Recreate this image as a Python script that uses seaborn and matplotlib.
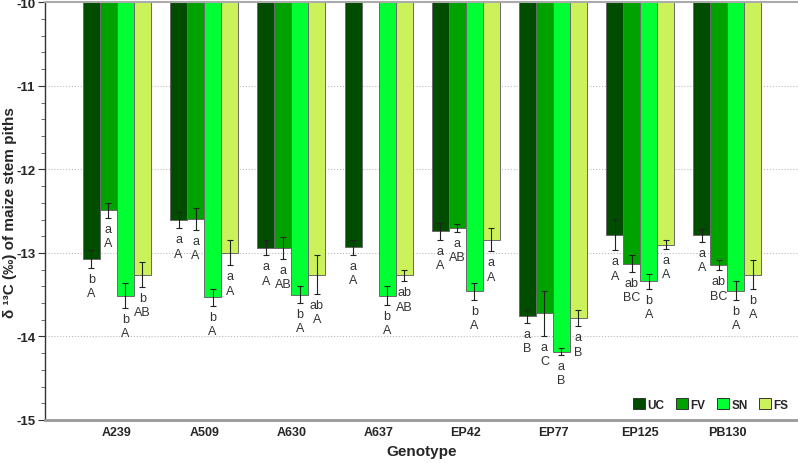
import numpy as np
import pandas as pd
import matplotlib
matplotlib.use("Agg")
import matplotlib.pyplot as plt
from matplotlib.patches import Patch
from matplotlib.ticker import MultipleLocator
import seaborn as sns

genotypes = ["A239", "A509", "A630", "A637", "EP42", "EP77", "EP125", "PB130"]
treatments = ["UC", "FV", "SN", "FS"]
colors = ["#004d00", "#00a200", "#00ff33", "#cbf25b"]

# mean d13C per treatment (one value per genotype)
uc = [-13.07, -12.61, -12.94, -12.93, -12.74, -13.76, -12.78, -12.79]
fv = [-12.49, -12.59, -12.94, np.nan, -12.70, -13.72, -13.13, -13.15]
sn = [-13.51, -13.53, -13.50, -13.51, -13.46, -14.18, -13.34, -13.45]
fs = [-13.26, -13.00, -13.26, -13.27, -12.84, -13.78, -12.90, -13.26]

# standard errors
uc_err = [0.11, 0.095, 0.09, 0.09, 0.10, 0.08, 0.19, 0.08]
fv_err = [0.09, 0.13, 0.13, np.nan, 0.05, 0.27, 0.10, 0.06]
sn_err = [0.15, 0.10, 0.10, 0.11, 0.10, 0.04, 0.09, 0.11]
fs_err = [0.15, 0.15, 0.23, 0.07, 0.14, 0.10, 0.05, 0.17]

# significance letters (lower / upper case)
uc_lbl = ["b\nA", "a\nA", "a\nA", "a\nA", "a\nA", "a\nB", "a\nA", "a\nA"]
fv_lbl = ["a\nA", "a\nA", "a\nAB", "", "a\nAB", "a\nC", "ab\nBC", "ab\nBC"]
sn_lbl = ["b\nA", "b\nA", "b\nA", "b\nA", "b\nA", "a\nB", "b\nA", "b\nA"]
fs_lbl = ["b\nAB", "a\nA", "ab\nA", "ab\nAB", "a\nA", "a\nB", "a\nA", "b\nA"]

values = [uc, fv, sn, fs]
errors = [uc_err, fv_err, sn_err, fs_err]
letters = [uc_lbl, fv_lbl, sn_lbl, fs_lbl]

rows = []
for t, vals in zip(treatments, values):
    for g, v in zip(genotypes, vals):
        rows.append({"genotype": g, "treatment": t, "d13C": v})
df = pd.DataFrame(rows)

sns.set_style("white")
plt.rcParams["font.family"] = ["Liberation Sans", "DejaVu Sans"]
plt.rcParams["axes.unicode_minus"] = False

fig = plt.figure(figsize=(7.98, 4.64), dpi=100)
ax = fig.add_axes([0.0564, 0.0927, 0.9436, 0.9])

width = 0.78
sns.barplot(data=df, x="genotype", y="d13C", hue="treatment", order=genotypes,
            hue_order=treatments, palette=colors, saturation=1, width=width,
            errorbar=None, edgecolor="#6a6a6a", linewidth=0.7, legend=False, ax=ax)

bw = width / len(treatments)
for p in ax.patches:
    h = p.get_height()
    if np.isnan(h):
        continue
    cx = p.get_x() + p.get_width() / 2
    gi = int(round(cx))
    ti = int(round((cx - gi + width / 2 - bw / 2) / bw))
    e = errors[ti][gi]
    ax.errorbar(cx, h, yerr=e, fmt="none", ecolor="#222222", elinewidth=0.8,
                capsize=2.5, capthick=0.8, zorder=4)
    ax.text(cx, h - e - 0.06, letters[ti][gi], ha="center", va="top",
            fontsize=9, color="#333333", linespacing=1.25)

ax.set_ylim(-15, -10)
ax.set_xlim(-0.825, 7.81)
ax.set_yticks(range(-15, -9))
ax.yaxis.set_minor_locator(MultipleLocator(0.2))
ax.tick_params(axis="y", which="major", left=True, length=5, width=0.8,
               color="#333333", labelsize=9.5, pad=2)
ax.tick_params(axis="y", which="minor", left=True, length=3, width=0.6,
               color="#555555")
ax.tick_params(axis="x", length=0, labelsize=9, pad=4)
for lab in ax.get_xticklabels() + ax.get_yticklabels():
    lab.set_fontweight("bold")

ax.yaxis.grid(True, which="major", linestyle=":", color="#bbbbbb", linewidth=0.8)
ax.set_axisbelow(True)

ax.spines["right"].set_visible(False)
ax.spines["top"].set_color("#aaaaaa")
ax.spines["top"].set_linewidth(1.5)
ax.spines["bottom"].set_color("#999999")
ax.spines["bottom"].set_linewidth(2)
ax.spines["left"].set_color("#333333")
ax.spines["left"].set_linewidth(1)

ax.set_xlabel("Genotype", fontsize=11, fontweight="bold")
ax.xaxis.set_label_coords(0.5, -0.074)
ax.xaxis.label.set_va("center")
ax.set_ylabel("δ ¹³C (‰) of maize stem piths", fontsize=11, fontweight="bold")
ax.yaxis.set_label_coords(-0.047, 0.5)
ax.yaxis.label.set_va("center")

handles = [Patch(facecolor=c, edgecolor="#333333", linewidth=0.7) for c in colors]
ax.legend(handles, treatments, loc="lower right", ncol=4, frameon=False,
          handlelength=1.0, handleheight=1.0, handletextpad=0.2,
          columnspacing=1.0, borderaxespad=0.4,
          prop={"weight": "bold", "size": 8.5})

fig.savefig("out.png", dpi=100)
